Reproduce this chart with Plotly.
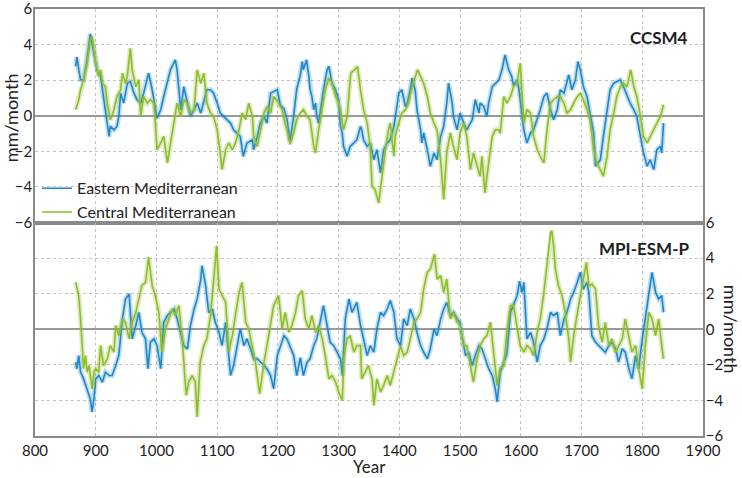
import plotly.graph_objects as go

# ---------------- data ----------------
ccsm_east_years = [867,869,872,875,880,886,891,897,902,908,913,922,924,930,935,938,941,946,952,957,963,968,974,979,987,993,1001,1007,1012,1018,1023,1031,1034,1037,1040,1045,1051,1056,1062,1067,1073,1083,1089,1094,1100,1105,1116,1122,1127,1138,1143,1149,1158,1160,1166,1171,1177,1182,1188,1199,1204,1210,1215,1220,1226,1231,1237,1240,1242,1247,1251,1253,1256,1259,1262,1264,1267,1273,1275,1281,1284,1289,1295,1300,1303,1306,1308,1314,1319,1325,1330,1336,1338,1341,1347,1352,1358,1363,1369,1374,1380,1385,1391,1396,1399,1404,1410,1413,1418,1421,1426,1429,1435,1437,1440,1446,1451,1457,1462,1468,1473,1478,1481,1487,1489,1495,1500,1506,1511,1517,1520,1525,1531,1533,1539,1544,1547,1553,1558,1564,1569,1574,1580,1585,1588,1594,1597,1602,1605,1610,1616,1621,1627,1632,1638,1643,1649,1654,1660,1665,1671,1676,1679,1684,1690,1694,1698,1703,1709,1714,1720,1723,1731,1736,1742,1747,1753,1758,1764,1769,1775,1780,1786,1791,1797,1802,1808,1813,1819,1824,1830,1832,1835]
ccsm_east = [2.77,3.3,2.6,2.02,2.0,3.2,4.6,3.51,2.58,2.21,0.9,-1.16,-0.6,-0.79,-0.6,-0.04,1.27,0.71,1.83,1.93,1.27,0.9,0.71,1.27,2.39,1.46,-0.13,0.34,1.08,1.83,2.58,3.14,2.58,1.46,0.34,1.64,0.71,-0.04,0.34,0.71,0.15,1.46,1.46,1.27,0.71,0.15,-0.22,-0.41,-0.79,-1.16,-2.28,-1.53,-1.35,-1.91,-1.16,-0.41,-0.04,-0.41,1.27,1.46,0.6,0.4,-0.2,-1.4,0.0,1.5,2.3,3.05,2.58,3.14,2.21,1.46,1.08,0.34,0.71,-0.04,-0.41,1.08,1.46,2.58,2.77,1.83,1.46,0.9,-0.6,-0.97,-1.72,-2.28,-1.72,-1.53,-1.35,-0.6,-0.79,-1.35,-1.72,-1.53,-2.47,-1.91,-3.21,-1.91,-1.53,-1.35,-0.6,0.52,1.27,1.46,0.52,0.71,1.46,2.11,1.46,0.34,-0.79,-1.53,-0.97,-1.91,-2.84,-2.09,-2.47,-1.16,-0.6,0.71,1.83,0.71,-0.04,-0.79,0.15,-0.41,-0.79,-0.41,-0.22,0.9,0.15,0.71,0.52,-0.04,0.71,1.64,1.83,2.02,2.58,3.42,2.58,2.21,1.7,2.02,1.46,-0.04,-0.79,-1.53,-0.97,-0.79,-0.22,0.34,1.08,1.27,0.34,-0.22,0.34,1.46,1.27,1.83,2.3,1.46,2.02,3.05,2.58,1.64,1.08,0.15,-0.97,-2.84,-2.47,-1.16,0.15,1.46,1.83,1.93,2.02,1.64,1.08,0.71,0.34,-0.04,-1.16,-2.09,-2.84,-2.47,-3.03,-1.91,-1.72,-2.09,-0.41]

ccsm_central_years = [867,872,875,880,886,891,894,897,900,905,908,911,916,919,924,930,935,941,944,949,952,957,960,966,971,974,979,985,990,996,1001,1007,1012,1018,1023,1029,1034,1040,1045,1051,1056,1062,1067,1073,1078,1083,1089,1094,1100,1105,1108,1114,1119,1125,1130,1136,1141,1147,1152,1158,1160,1166,1171,1177,1182,1188,1193,1201,1207,1212,1215,1220,1226,1231,1237,1242,1248,1253,1259,1262,1267,1273,1278,1284,1289,1295,1300,1303,1308,1314,1317,1320,1326,1331,1336,1341,1347,1352,1355,1360,1366,1371,1377,1382,1385,1391,1393,1399,1404,1410,1415,1421,1426,1430,1435,1440,1446,1451,1457,1462,1468,1473,1478,1484,1489,1495,1500,1506,1511,1517,1522,1528,1533,1536,1541,1547,1553,1558,1564,1566,1572,1577,1583,1588,1594,1599,1602,1605,1610,1616,1621,1627,1632,1638,1643,1649,1654,1660,1665,1671,1676,1682,1687,1693,1698,1703,1709,1714,1720,1725,1731,1736,1742,1747,1753,1758,1764,1769,1775,1781,1786,1791,1797,1802,1808,1813,1819,1824,1830,1835]
ccsm_central = [0.34,0.9,1.46,2.02,2.95,4.26,4.45,3.7,2.95,2.21,2.58,1.83,1.64,0.71,-0.22,0.34,1.08,1.46,2.39,1.83,2.21,3.79,2.58,1.64,2.02,-0.04,1.08,0.71,0.9,0.71,-1.91,-1.53,-1.16,-2.65,-1.53,-0.22,0.71,-0.04,0.9,0.71,0.15,0.34,2.58,1.83,2.39,0.71,0.15,-0.04,-0.79,-2.09,-3.03,-1.91,-1.53,-1.91,-1.53,-0.79,0.15,-0.22,0.71,-0.04,-1.16,-1.72,-0.79,0.15,0.52,0.15,1.08,0.71,0.34,-0.5,-0.79,-1.6,-0.97,-0.22,0.15,0.34,-0.04,-0.22,-1.72,-2.09,-0.79,0.34,1.46,2.11,1.83,1.08,0.71,0.34,-0.79,-0.04,1.46,2.39,2.58,2.77,1.46,0.34,-0.41,-1.72,-3.96,-4.15,-4.9,-3.4,-1.91,-0.79,-0.41,-2.28,-1.16,-0.41,0.15,0.34,0.71,1.64,2.21,2.58,2.21,1.83,1.08,0.15,-0.41,-0.79,-2.47,-4.71,-2.09,-0.97,-1.72,-2.47,-0.97,-0.41,-1.16,-3.03,-2.09,-2.84,-3.4,-2.28,-4.34,-2.65,-1.16,-0.79,-0.79,-1.0,1.08,0.71,1.08,1.64,1.83,2.95,0.9,-0.41,0.34,0.15,-1.16,-1.91,-2.28,-2.65,-0.79,0.71,0.9,1.08,1.08,0.71,0.15,0.34,0.71,1.08,1.27,0.9,0.34,-0.22,-1.91,-2.65,-3.03,-3.4,-2.28,-0.79,0.15,1.08,1.64,1.83,1.64,2.58,1.64,1.08,-0.04,-1.16,-1.53,-1.16,-0.79,-0.41,-0.04,0.62]

mpi_east_years = [867,869,872,875,880,886,891,894,897,900,905,911,916,922,927,933,938,944,949,955,957,960,966,971,976,982,986,990,996,1001,1007,1012,1018,1023,1029,1034,1040,1045,1051,1056,1062,1067,1073,1075,1081,1086,1092,1097,1103,1108,1114,1119,1122,1127,1133,1138,1144,1149,1155,1160,1166,1171,1177,1182,1188,1193,1199,1204,1210,1215,1221,1226,1231,1237,1242,1248,1253,1259,1264,1270,1275,1281,1286,1292,1297,1303,1306,1311,1317,1322,1330,1336,1341,1347,1352,1358,1363,1369,1374,1380,1385,1391,1396,1402,1407,1413,1418,1424,1429,1435,1440,1446,1451,1457,1462,1468,1473,1478,1484,1489,1495,1500,1503,1509,1514,1520,1525,1531,1536,1542,1547,1553,1558,1561,1566,1572,1577,1583,1588,1594,1598,1602,1605,1610,1616,1621,1627,1632,1638,1643,1649,1654,1660,1665,1671,1676,1682,1687,1693,1698,1703,1709,1712,1717,1723,1728,1734,1739,1745,1750,1756,1761,1767,1772,1778,1783,1789,1794,1800,1805,1811,1816,1822,1827,1832,1835]
mpi_east = [-1.85,-2.22,-1.48,-2.41,-2.79,-3.35,-3.91,-4.65,-3.91,-2.79,-2.6,-2.97,-2.41,-2.6,-2.6,-2.04,-1.48,0.58,1.7,1.98,0.95,-0.54,0.21,0.95,-0.17,-0.54,-2.22,-0.73,-0.54,-0.92,-2.22,0.39,0.77,0.95,1.14,0.58,-0.17,-0.92,-1.1,0.21,1.14,1.7,2.82,3.57,2.45,0.95,1.14,0.39,-0.17,-0.92,0.39,-1.29,-2.6,-2.04,-0.92,0.02,-0.92,-0.54,-1.1,-1.66,-1.66,-1.85,-2.04,-2.22,-2.6,-3.35,-1.48,-0.92,-0.36,-0.54,-1.1,-1.48,-2.6,-1.6,-2.6,-1.85,-1.66,-0.92,-0.54,0.39,1.33,0.21,-0.73,-0.92,-1.29,-1.66,-2.6,0.58,1.7,0.95,1.51,0.21,-0.54,-1.48,-0.92,-1.29,0.02,0.95,0.77,1.14,1.61,0.95,-0.54,-0.92,0.58,0.21,1.14,0.58,-0.17,-0.92,-1.29,-1.66,-1.1,0.02,-0.36,0.58,1.14,1.51,0.77,0.95,0.58,0.39,-0.36,-1.48,-1.29,-2.04,-1.48,-0.92,-1.1,-1.66,-2.22,-2.6,-3.35,-4.09,-2.41,-1.85,-1.4,0.95,1.4,1.89,2.7,2.07,2.64,-0.54,-0.17,-0.73,-1.85,-0.92,-0.54,0.02,0.95,0.77,0.95,-0.36,0.58,0.95,1.7,2.07,2.64,3.2,2.26,2.64,2.07,-0.36,-0.73,-0.92,-1.1,-1.29,-0.92,-0.73,-1.1,-1.85,-1.1,-1.29,-2.22,-2.79,-1.48,-2.22,-0.54,0.58,2.07,3.2,2.07,1.7,1.89,0.95]

mpi_central_years = [867,869,872,875,878,880,883,886,889,894,897,900,905,908,913,919,924,930,933,938,944,949,955,960,966,971,976,982,987,993,998,1004,1009,1015,1020,1026,1031,1037,1042,1046,1049,1053,1059,1064,1067,1072,1078,1083,1089,1094,1099,1103,1108,1114,1119,1125,1130,1136,1141,1147,1152,1158,1163,1170,1177,1182,1188,1193,1201,1207,1212,1218,1223,1229,1234,1240,1245,1251,1256,1262,1267,1273,1278,1284,1289,1295,1300,1306,1309,1314,1319,1325,1330,1336,1338,1344,1349,1355,1358,1363,1369,1374,1380,1385,1391,1396,1402,1407,1413,1418,1424,1429,1435,1440,1446,1451,1458,1462,1468,1473,1478,1484,1489,1495,1500,1506,1511,1517,1522,1528,1533,1539,1544,1550,1555,1561,1566,1572,1577,1583,1588,1594,1599,1605,1610,1616,1621,1627,1632,1638,1643,1649,1651,1654,1657,1662,1668,1673,1679,1682,1687,1693,1698,1703,1708,1712,1717,1723,1728,1734,1739,1745,1750,1756,1761,1767,1772,1778,1783,1789,1794,1800,1805,1811,1816,1822,1827,1832,1835]
mpi_central = [2.64,2.26,1.89,0.58,-0.92,-2.22,-1.48,-2.41,-2.04,-3.35,-2.41,-2.22,-2.41,-0.92,-2.04,-1.66,-0.92,-1.29,0.21,-0.36,0.58,0.39,-0.54,0.39,0.95,1.7,2.45,2.64,4.04,2.45,1.89,0.95,-1.29,0.02,0.58,1.14,0.77,1.33,-0.36,-2.22,-3.72,-2.97,-2.6,-2.97,-4.93,-1.85,-0.92,-0.54,0.77,2.64,4.69,2.26,1.89,1.51,-1.29,-0.36,0.77,2.07,2.64,0.39,0.02,-0.92,-1.85,-3.63,-1.85,-0.92,0.39,1.33,1.89,0.02,0.95,-0.17,0.21,0.95,1.89,2.17,0.58,0.02,0.77,-0.17,0.21,-0.54,-1.48,-2.79,-2.6,-2.97,-3.53,-4.0,-1.48,-0.54,-0.36,-1.29,-0.92,-0.92,-2.79,-2.41,-2.04,-2.79,-4.28,-2.79,-3.53,-3.16,-2.6,-3.16,-2.41,-1.66,-0.92,-1.48,-1.29,-0.54,0.39,0.58,0.95,2.26,3.2,3.38,4.22,2.82,3.01,2.07,2.82,0.58,0.95,0.39,0.21,-0.92,-0.92,-2.04,-2.97,-1.66,-0.92,-0.54,-0.36,0.39,-1.29,-3.16,-2.22,-2.04,-0.17,1.33,1.33,0.21,-0.92,-1.29,-0.92,-1.1,-1.48,-0.17,0.58,2.07,3.57,5.44,5.53,4.69,3.38,2.45,1.89,0.95,-0.54,-1.85,-0.36,0.95,1.89,2.82,3.76,2.45,2.54,2.26,0.21,-0.73,0.39,-0.92,-0.54,-1.29,-0.92,-0.54,0.58,-0.54,-1.29,-0.92,-2.22,-3.35,-0.92,0.95,0.58,-0.36,0.58,-0.92,-1.66]

series_names = ["Eastern Mediterranean", "Central Mediterranean"]
panel_titles = ["CCSM4", "MPI-ESM-P"]
x_ticks = list(range(800, 2000, 100))
y_ticks = [-6, -4, -2, 0, 2, 4, 6]

# ---------------- style ----------------
BLUE = "#1f87c8"
GREEN = "#8dbd2c"
BLUE_BAND = "rgba(31,135,200,0.28)"
GREEN_BAND = "rgba(141,189,44,0.30)"
FONT = "Lato"
FRAME = "#8a8a8a"
GRID = "#c4c4c4"

fig = go.Figure()

def add_series(xs, ys, color, band, xaxis, yaxis, name, show):
    fig.add_trace(go.Scatter(x=xs, y=ys, mode="lines", xaxis=xaxis, yaxis=yaxis,
                             line=dict(color=band, width=5), hoverinfo="skip",
                             showlegend=False))
    fig.add_trace(go.Scatter(x=xs, y=ys, mode="lines", xaxis=xaxis, yaxis=yaxis,
                             line=dict(color=color, width=1.6), name=name,
                             showlegend=show))

add_series(ccsm_east_years, ccsm_east, BLUE, BLUE_BAND, "x", "y", series_names[0], True)
add_series(ccsm_central_years, ccsm_central, GREEN, GREEN_BAND, "x", "y", series_names[1], True)
add_series(mpi_east_years, mpi_east, BLUE, BLUE_BAND, "x2", "y2", series_names[0], False)
add_series(mpi_central_years, mpi_central, GREEN, GREEN_BAND, "x2", "y2", series_names[1], False)

axis_common = dict(showline=True, linecolor=FRAME, linewidth=1.5, mirror=True,
                   showgrid=True, gridcolor=GRID, griddash="dot", gridwidth=1,
                   ticks="", ticklen=0, automargin=False, ticklabeloverflow="allow",
                   tickfont=dict(family=FONT, size=15, color="#222"))

fig.update_layout(
    width=742, height=478,
    margin=dict(l=35, r=39, t=9, b=42, autoexpand=False),
    paper_bgcolor="white", plot_bgcolor="white",
    font=dict(family=FONT, color="#222"),
    xaxis=dict(domain=[0, 1], range=[800, 1900], tickvals=x_ticks,
               showticklabels=False, anchor="y", zeroline=False, **axis_common),
    yaxis=dict(domain=[0.5, 1], range=[-6, 6], tickvals=y_ticks, anchor="x",
               zeroline=True, zerolinecolor="#9a9a9a", zerolinewidth=1.5,
               side="left", ticklabelstandoff=-2, **axis_common),
    xaxis2=dict(domain=[0, 1], range=[800, 1900], tickvals=x_ticks,
                anchor="y2", zeroline=False, matches="x", ticklabelstandoff=0,
                **axis_common),
    yaxis2=dict(domain=[0, 0.5], range=[-6, 6], tickvals=y_ticks, anchor="x2",
                zeroline=True, zerolinecolor="#9a9a9a", zerolinewidth=1.5,
                side="right", ticklabelstandoff=-2, **axis_common),
    legend=dict(x=0.003, y=0.552, xanchor="left", yanchor="middle",
                bgcolor="rgba(0,0,0,0)", font=dict(family=FONT, size=16, color="#222"),
                itemwidth=30, tracegroupgap=0),
    showlegend=True,
)

annotations = [
    dict(text="<b>%s</b>" % panel_titles[0], x=1879, y=4.4, xref="x", yref="y",
         xanchor="right", yanchor="middle", showarrow=False,
         font=dict(family=FONT, size=17, color="#222")),
    dict(text="<b>%s</b>" % panel_titles[1], x=1880, y=4.55, xref="x2", yref="y2",
         xanchor="right", yanchor="middle", showarrow=False,
         font=dict(family=FONT, size=17, color="#222")),
    dict(text="mm/month", x=-0.0355, y=0.745, xref="paper", yref="paper",
         textangle=-90, showarrow=False, xanchor="center", yanchor="middle",
         font=dict(family=FONT, size=18, color="#222")),
    dict(text="mm/month", x=1.041, y=0.25, xref="paper", yref="paper",
         textangle=90, showarrow=False, xanchor="center", yanchor="middle",
         font=dict(family=FONT, size=18, color="#222")),
    dict(text="Year", x=0.5, y=-0.072, xref="paper", yref="paper",
         showarrow=False, xanchor="center", yanchor="middle",
         font=dict(family=FONT, size=17, color="#222")),
]
fig.update_layout(annotations=annotations)

fig.write_html("out.html", config={"displayModeBar": False},
               post_script="document.body.style.margin='0';")
